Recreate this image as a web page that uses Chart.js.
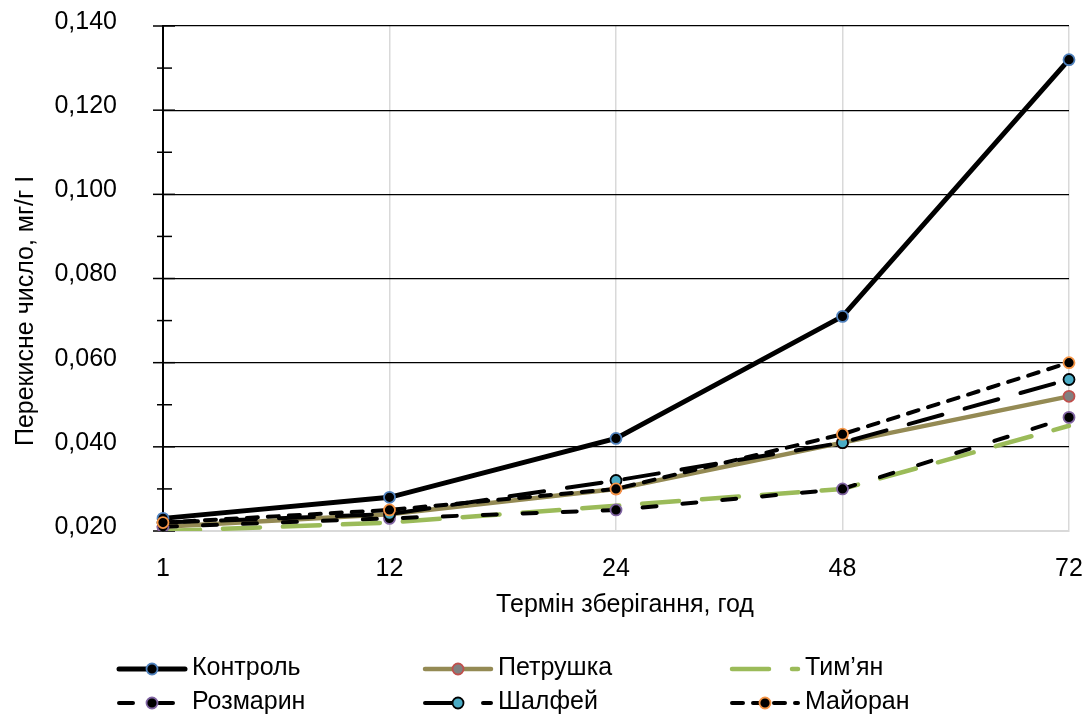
<!DOCTYPE html>
<html>
<head>
<meta charset="utf-8">
<script src="https://cdn.jsdelivr.net/npm/chart.js@4.4.1/dist/chart.umd.min.js"></script>
<style>
  html, body { margin: 0; padding: 0; background: #ffffff; }
  #wrap { width: 1086px; height: 715px; position: relative; }
</style>
</head>
<body>
<div id="wrap"><canvas id="c" width="1086" height="715"></canvas></div>
<script>
// Storage time, hours
const hours = ['1', '12', '24', '48', '72'];

// Peroxide value, mg/g I, per treatment
const kontrol   = [0.023, 0.028, 0.042, 0.071, 0.132];
const petrushka = [0.021, 0.024, 0.030, 0.041, 0.052];
const tymyan    = [0.020, 0.022, 0.026, 0.030, 0.045];
const rozmaryn  = [0.021, 0.023, 0.025, 0.030, 0.047];
const shalfei   = [0.022, 0.024, 0.032, 0.041, 0.056];
const maioran   = [0.022, 0.025, 0.030, 0.043, 0.060];

const seriesNames = ['Контроль', 'Петрушка', 'Тим’ян', 'Розмарин', 'Шалфей', 'Майоран'];
const xTitle = 'Термін зберігання, год';
const yTitle = 'Перекисне число, мг/г І';

// Value axis range and tick steps
const yMin = 0.02, yMax = 0.14, yMinorStep = 0.01;

const FONT = '"Liberation Sans", Arial, sans-serif';
const FS = 25;

function isMajor(v) {
  return Math.round(v * 100) % 2 === 0;
}

function fmt(v) {
  return v.toFixed(3).replace('.', ',');
}

const datasets = [
  { label: seriesNames[0], data: kontrol, borderColor: '#000000', borderWidth: 5,
    pointRadius: 5.5, pointBorderWidth: 1.8, pointBackgroundColor: '#000000', pointBorderColor: '#4F81BD', order: 6 },
  { label: seriesNames[1], data: petrushka, borderColor: '#948A54', borderWidth: 4.5,
    pointRadius: 5.5, pointBorderWidth: 1.8, pointBackgroundColor: '#808080', pointBorderColor: '#C0504D', order: 5 },
  { label: seriesNames[2], data: tymyan, borderColor: '#9BBB59', borderWidth: 4.5, borderDash: [37, 23],
    pointRadius: 0, order: 4 },
  { label: seriesNames[3], data: rozmaryn, borderColor: '#000000', borderWidth: 4, borderDash: [14, 26],
    pointRadius: 5.5, pointBorderWidth: 1.8, pointBackgroundColor: '#000000', pointBorderColor: '#8064A2', order: 3 },
  { label: seriesNames[4], data: shalfei, borderColor: '#000000', borderWidth: 4, borderDash: [35, 23],
    pointRadius: 5.5, pointBorderWidth: 1.8, pointBackgroundColor: '#4BACC6', pointBorderColor: '#000000', order: 2 },
  { label: seriesNames[5], data: maioran, borderColor: '#000000', borderWidth: 4, borderDash: [11, 10],
    pointRadius: 5.5, pointBorderWidth: 1.8, pointBackgroundColor: '#000000', pointBorderColor: '#F79646', order: 1 }
];
datasets.forEach(d => { d.borderCapStyle = 'round'; d.tension = 0; d.fill = false; });

// Major/minor tick marks crossing the value axis
const axisTicks = {
  id: 'axisTicks',
  beforeDatasetsDraw(chart) {
    const ys = chart.scales.y, ctx = chart.ctx, x0 = ys.right;
    ctx.save();
    ctx.strokeStyle = '#000000';
    ctx.lineWidth = 1.5;
    ys.ticks.forEach((t, i) => {
      const py = ys.getPixelForTick(i);
      const major = isMajor(t.value);
      ctx.beginPath();
      ctx.moveTo(x0 - (major ? 10 : 6), py);
      ctx.lineTo(x0 + (major ? 12 : 9), py);
      ctx.stroke();
    });
    ctx.restore();
  }
};

// Axis titles
const axisTitles = {
  id: 'axisTitles',
  afterDraw(chart) {
    const ctx = chart.ctx;
    ctx.save();
    ctx.fillStyle = '#000000';
    ctx.font = FS + 'px ' + FONT;
    ctx.textAlign = 'center';
    ctx.textBaseline = 'alphabetic';
    ctx.fillText(xTitle, 625, 612);
    ctx.translate(33, 311);
    ctx.rotate(-Math.PI / 2);
    ctx.fillText(yTitle, 0, 0);
    ctx.restore();
  }
};

// Legend grid: 3 columns x 2 rows with line + marker samples
const gridLegend = {
  id: 'gridLegend',
  afterDraw(chart) {
    const ctx = chart.ctx;
    const colX = [117, 423, 730];
    const rowY = [668, 702];
    const sampleLen = 68;
    chart.data.datasets.forEach((ds, i) => {
      const x0 = colX[i % 3], y = rowY[Math.floor(i / 3)];
      ctx.save();
      ctx.strokeStyle = ds.borderColor;
      ctx.lineWidth = ds.borderWidth;
      ctx.lineCap = 'round';
      ctx.setLineDash(ds.borderDash || []);
      ctx.beginPath();
      ctx.moveTo(x0 + 2, y + 1);
      ctx.lineTo(x0 + sampleLen, y + 1);
      ctx.stroke();
      ctx.setLineDash([]);
      if (ds.pointRadius > 0) {
        ctx.beginPath();
        ctx.arc(x0 + 35, y + 1, ds.pointRadius, 0, Math.PI * 2);
        ctx.fillStyle = ds.pointBackgroundColor;
        ctx.fill();
        ctx.lineWidth = ds.pointBorderWidth;
        ctx.strokeStyle = ds.pointBorderColor;
        ctx.stroke();
      }
      ctx.fillStyle = '#000000';
      ctx.font = FS + 'px ' + FONT;
      ctx.textBaseline = 'middle';
      ctx.textAlign = 'left';
      ctx.fillText(ds.label, x0 + 75, y);
      ctx.restore();
    });
  }
};

new Chart(document.getElementById('c'), {
  type: 'line',
  data: { labels: hours, datasets: datasets },
  options: {
    responsive: false,
    animation: false,
    devicePixelRatio: 1,
    layout: { padding: { left: 0, right: 17, top: 26, bottom: 98 } },
    plugins: { legend: { display: false }, tooltip: { enabled: false } },
    scales: {
      x: {
        type: 'category',
        offset: false,
        grid: { color: '#D9D9D9', lineWidth: 1.5, drawTicks: true, tickLength: 23, tickColor: 'rgba(0,0,0,0)' },
        border: { color: '#D9D9D9', width: 2 },
        ticks: { color: '#000000', font: { family: FONT, size: FS }, padding: 0, maxRotation: 0 },
        afterFit(scale) { scale.height = 86; }
      },
      y: {
        min: yMin,
        max: yMax,
        grid: {
          drawTicks: true,
          tickLength: 46,
          tickColor: 'rgba(0,0,0,0)',
          lineWidth: 1.3,
          color(c) {
            const v = c.tick.value;
            if (!isMajor(v) || Math.abs(v - yMin) < 1e-9) return 'rgba(0,0,0,0)';
            return '#000000';
          }
        },
        border: { color: '#000000', width: 2 },
        ticks: {
          stepSize: yMinorStep,
          autoSkip: false,
          padding: 0,
          labelOffset: -4,
          color: '#000000',
          font: { family: FONT, size: FS },
          callback(v) { return isMajor(v) ? fmt(v) : ''; }
        },
        afterFit(scale) { scale.width = 163; }
      }
    }
  },
  plugins: [axisTicks, axisTitles, gridLegend]
});
</script>
</body>
</html>
